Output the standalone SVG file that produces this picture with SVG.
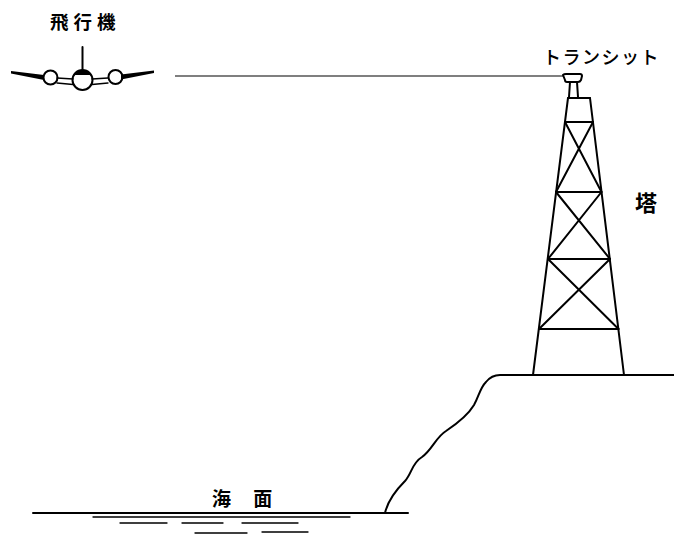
<svg xmlns="http://www.w3.org/2000/svg" width="674" height="536" viewBox="0 0 674 536">
  <style>
    .ln { fill: none; stroke: #000; stroke-width: 2; stroke-linecap: round; stroke-linejoin: round; }
    .thin { fill: none; stroke: #000; stroke-width: 1.3; stroke-linecap: round; }
    .lbl { font-family: "Noto Sans CJK JP", "Noto Sans", sans-serif; fill: #000; }
  </style>
  <rect width="674" height="536" fill="#fff"/>

  <!-- aircraft, seen head-on -->
  <g id="airplane">
    <text class="lbl" x="50" y="29" font-size="18.5" font-weight="bold" letter-spacing="5">飛行機</text>
    <line class="ln" x1="82.5" y1="47" x2="82.5" y2="72" stroke-width="2.4"/>
    <!-- outer wing panels -->
    <polygon points="11,71 44,75 44,80 11,73.5" fill="#000"/>
    <polygon points="154,70.5 121,74.5 121,79.5 154,73" fill="#000"/>
    <!-- inner wing panels -->
    <line class="thin" x1="57" y1="78" x2="73" y2="79"/>
    <line class="thin" x1="57" y1="83" x2="73" y2="84.5"/>
    <line class="thin" x1="92" y1="79" x2="108" y2="78"/>
    <line class="thin" x1="92" y1="84.5" x2="108" y2="83"/>
    <!-- engines and fuselage -->
    <circle class="ln" cx="50.5" cy="77.5" r="7" fill="#fff"/>
    <circle class="ln" cx="115.5" cy="77" r="7" fill="#fff"/>
    <circle class="ln" cx="82.5" cy="80" r="10" fill="#fff"/>
    <path d="M74,75 A10,10 0 0 1 91,75 Z" fill="#000"/>
  </g>

  <!-- sight line -->
  <g id="connectors">
    <line x1="175" y1="76" x2="563" y2="76" stroke="#000" stroke-width="1.2"/>
  </g>

  <!-- transit on top of the tower -->
  <g id="transit">
    <text class="lbl" x="543" y="64" font-size="18" font-weight="500" letter-spacing="1.5">トランシット</text>
    <path class="ln" d="M563,75 Q564,74 566,74 L580,74 Q582,74 582,76 L581,80 Q580,82 578,82 L567,82 Q565,82 565,80 Z" fill="#fff"/>
    <path class="ln" d="M570,82 L569,97 M577,82 L578,97"/>
  </g>

  <!-- lattice tower -->
  <g id="tower">
    <text class="lbl" x="635" y="211" font-size="22" font-weight="bold">塔</text>
    <line class="ln" x1="568" y1="98" x2="533" y2="375"/>
    <line class="ln" x1="590" y1="98" x2="624" y2="375"/>
    <line class="ln" x1="568" y1="98" x2="590" y2="98"/>
    <line class="ln" x1="565" y1="122" x2="593" y2="122" stroke-width="1.6"/>
    <line class="ln" x1="556" y1="192" x2="601.5" y2="192" stroke-width="1.6"/>
    <line class="ln" x1="548" y1="259" x2="610" y2="259" stroke-width="1.6"/>
    <line class="ln" x1="539" y1="329" x2="618.5" y2="329" stroke-width="1.6"/>
    <path class="ln" stroke-width="1.6" d="M565,122 L601.5,192 M593,122 L556,192 M556,192 L610,259 M601.5,192 L548,259 M548,259 L618.5,329 M610,259 L539,329"/>
  </g>

  <!-- cliff and plateau -->
  <g id="cliff">
    <path class="ln" d="M385,513 C388,500 396,490 405,481 C412,473 412,463 422,457 C432,450 436,437 446,431 C458,423 468,415 474,405 C479,396 480,388 486,382 C490,377 494,375 500,375 L674,375"/>
  </g>

  <!-- sea surface -->
  <g id="sea">
    <text class="lbl" x="212" y="506" font-size="19" font-weight="bold" letter-spacing="9" xml:space="preserve">海 面</text>
    <line class="ln" x1="33" y1="513" x2="408" y2="513"/>
    <line class="thin" x1="93" y1="517" x2="350" y2="517"/>
    <line class="thin" x1="120" y1="523" x2="167" y2="523" stroke-width="1.6"/>
    <line class="thin" x1="182" y1="523" x2="223" y2="523" stroke-width="1.6"/>
    <line class="thin" x1="242" y1="523" x2="298" y2="523" stroke-width="1.6"/>
    <line class="thin" x1="195" y1="533" x2="247" y2="533" stroke-width="1.8"/>
    <line class="thin" x1="262" y1="532" x2="308" y2="532" stroke-width="1.8"/>
  </g>
</svg>
